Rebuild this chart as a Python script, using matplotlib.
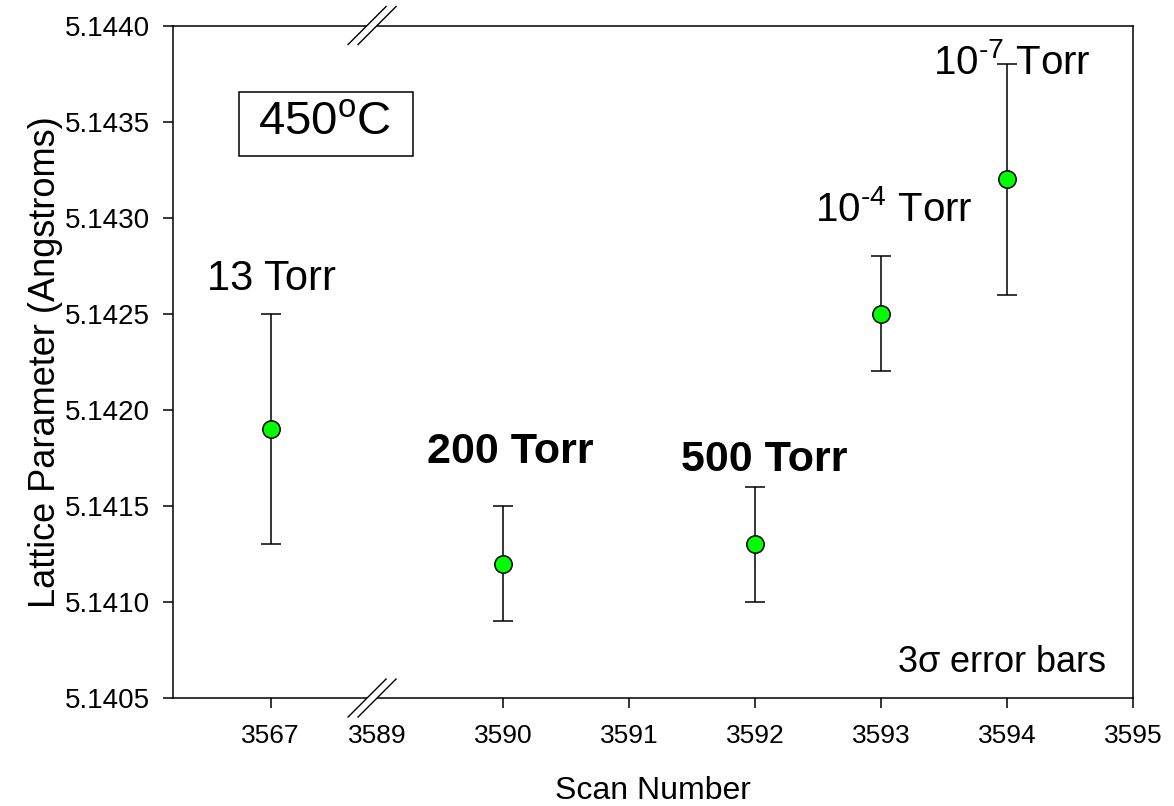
import matplotlib
matplotlib.use('Agg')
import matplotlib.pyplot as plt
import numpy as np
from matplotlib.patches import Rectangle, Polygon

plt.rcParams['font.family'] = ['Liberation Sans', 'DejaVu Sans']
plt.rcParams['mathtext.fontset'] = 'custom'
plt.rcParams['mathtext.rm'] = 'Liberation Sans'
plt.rcParams['mathtext.it'] = 'Liberation Sans'
plt.rcParams['mathtext.default'] = 'regular'

# scan numbers, lattice parameter and 3 sigma errors
scans = [3567, 3590, 3592, 3593, 3594]
lattice = [5.1419, 5.1412, 5.1413, 5.1425, 5.1432]
err3s = [0.0006, 0.0003, 0.0003, 0.0003, 0.0006]
xticks = [3567, 3589, 3590, 3591, 3592, 3593, 3594, 3595]
yticks = [5.1405, 5.1410, 5.1415, 5.1420, 5.1425, 5.1430, 5.1435, 5.1440]

# pressure labels: text, x, y, size, bold
labels = [
    ('13 Torr', 3567.25, 5.14268, 30, False),
    ('200 Torr', 3590.06, 5.14178, 31, True),
    ('500 Torr', 3592.07, 5.14174, 31, True),
    ('10$^{\u20104}$ Torr', 3593.10, 5.14304, 29, False),
    ('10$^{\u20107}$ Torr', 3594.04, 5.14381, 29, False),
]

# broken x axis: everything below 3589 squeezed together
k = 0.842 / 22


def fwd(x):
    x = np.asarray(x, dtype=float)
    return np.where(x >= 3589, x - 3590, -1 - (3589 - x) * k)


def inv(p):
    p = np.asarray(p, dtype=float)
    return np.where(p >= -1, p + 3590, 3589 - (-1 - p) / k)


fig = plt.figure(figsize=(11.74, 8.06), dpi=100)
ax = fig.add_axes([173.3 / 1174, 1 - 698 / 806, 960 / 1174, 672.5 / 806])
ax.set_xscale('function', functions=(fwd, inv))
ax.set_xlim(3546.8, 3595)
ax.set_ylim(5.1405, 5.1440)

ax.errorbar(scans, lattice, yerr=err3s, fmt='o', color='black', ecolor='black',
            elinewidth=1.1, capsize=7, capthick=1.1, ms=12.5,
            mfc='#00ff00', mec='black', mew=1.1, zorder=3)

for txt, x, y, size, bold in labels:
    ax.text(x, y, txt, ha='center', va='center', fontsize=size,
            fontweight='bold' if bold else 'normal')

ax.set_xticks(xticks)
ax.set_xticklabels([str(t) for t in xticks])
ax.set_yticks(yticks)
ax.set_yticklabels(['%.4f' % t for t in yticks])
ax.xaxis.get_major_ticks()[1].tick1line.set_visible(False)
ax.tick_params(axis='both', direction='out', length=7, width=1.1)
ax.tick_params(axis='x', pad=12, labelsize=19)
ax.tick_params(axis='y', pad=10, labelsize=20)
ax.minorticks_off()
for s in ax.spines.values():
    s.set_linewidth(1.1)

ax.set_xlabel('Scan Number', fontsize=23, labelpad=20)
ax.set_ylabel('Lattice Parameter (Angstroms)', fontsize=26, labelpad=1)

# temperature box
ax.add_patch(Rectangle((0.0684, 0.8065), 0.181, 0.0952, transform=ax.transAxes,
                       fill=False, ec='black', lw=1.1, clip_on=False))
ax.text(0.158, 0.838, r'450$^{\rm o}$C', transform=ax.transAxes,
        ha='center', va='baseline', fontsize=34)

ax.text(0.9726, 0.0387, r'3$\sigma$ error bars', transform=ax.transAxes,
        ha='right', va='baseline', fontsize=26)

# double-slash break marks on top and bottom spines
xb = ax.transAxes.inverted().transform(ax.transData.transform((3588, 5.141)))[0]
dx, dy, off = 19 / 960, 19 / 672.5, 10 / 960
for y0 in (0, 1):
    xa = xb - off / 2
    xc = xb + off / 2
    ax.add_patch(Polygon([(xa - dx, y0 - dy), (xa + dx, y0 + dy),
                          (xc + dx, y0 + dy), (xc - dx, y0 - dy)],
                         closed=True, fc='white', ec='none',
                         transform=ax.transAxes, clip_on=False, zorder=5))
    for xm in (xa, xc):
        ax.plot([xm - dx, xm + dx], [y0 - dy, y0 + dy], color='black', lw=1.0,
                transform=ax.transAxes, clip_on=False, zorder=6)

fig.savefig('out.png', dpi=100)
